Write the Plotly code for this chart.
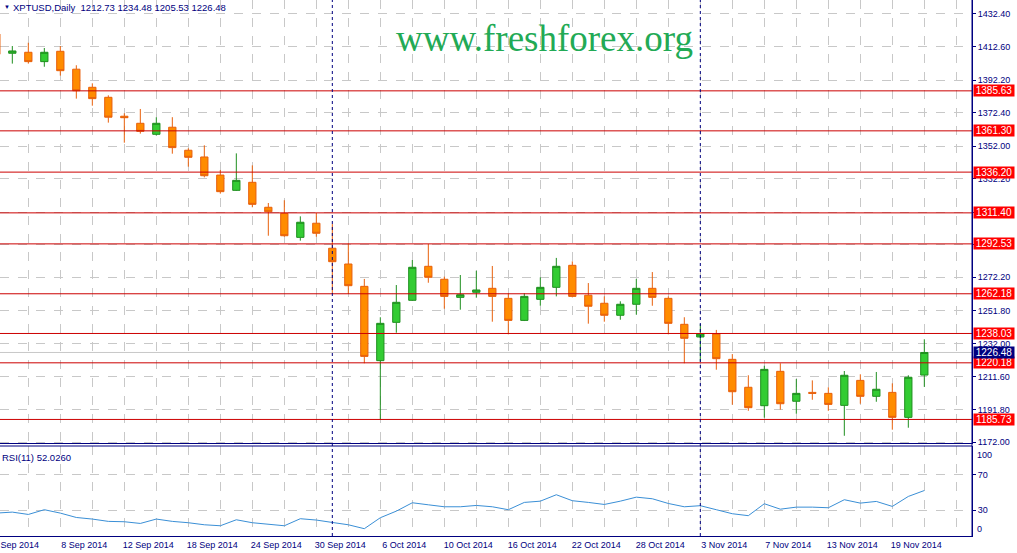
import plotly.graph_objects as go
import pandas as pd

# daily bars 2 Sep - 21 Nov 2014 (XPTUSD)
dates = pd.bdate_range("2014-09-02", "2014-11-21")
labels = [f"{d.day} {d:%b %Y}" for d in dates]

opens = [1420.2, 1408.5, 1409.1, 1403.4, 1409.7, 1398.8, 1387.8, 1381.7, 1370.2, 1365.9,
         1359.2, 1363.5, 1349.5, 1345.4, 1334.4, 1325.1, 1330.0, 1314.8, 1311.1, 1296.5,
         1305.1, 1289.9, 1280.3, 1266.7, 1221.5, 1244.8, 1258.2, 1278.9, 1271.0, 1260.0,
         1263.1, 1265.5, 1259.4, 1246.0, 1258.8, 1266.1, 1279.5, 1261.3, 1256.4, 1249.1,
         1255.8, 1265.5, 1259.4, 1243.6, 1235.9, 1237.7, 1222.3, 1205.3, 1194.1, 1215.0,
         1196.8, 1202.2, 1201.6, 1194.3, 1209.5, 1199.8, 1202.2, 1187.0, 1212.73]
highs = [1423.0, 1412.9, 1414.9, 1411.7, 1412.9, 1401.2, 1390.2, 1382.9, 1372.0, 1374.6,
         1369.6, 1369.6, 1350.7, 1352.5, 1337.5, 1347.6, 1340.3, 1317.4, 1319.1, 1309.3,
         1311.3, 1304.6, 1292.9, 1271.2, 1247.9, 1267.5, 1282.7, 1292.5, 1272.6, 1273.6,
         1276.2, 1279.1, 1262.5, 1262.5, 1272.2, 1284.0, 1281.9, 1268.7, 1260.6, 1257.6,
         1271.2, 1275.4, 1260.6, 1247.9, 1243.8, 1240.2, 1225.5, 1212.6, 1218.4, 1219.9,
         1210.3, 1209.5, 1205.3, 1215.2, 1213.2, 1214.6, 1207.7, 1212.6, 1234.48]
lows = [1405.5, 1402.2, 1402.2, 1400.3, 1394.9, 1380.9, 1376.6, 1366.3, 1354.1, 1359.6,
        1358.4, 1347.4, 1339.5, 1333.0, 1323.1, 1324.8, 1314.8, 1297.5, 1296.9, 1294.5,
        1296.9, 1262.1, 1262.1, 1219.9, 1185.4, 1238.5, 1257.8, 1268.9, 1253.1, 1252.5,
        1259.8, 1245.2, 1237.5, 1245.6, 1254.9, 1260.6, 1260.0, 1244.0, 1245.2, 1246.4,
        1249.5, 1254.9, 1237.5, 1219.9, 1220.9, 1216.0, 1194.7, 1191.0, 1186.8, 1191.7,
        1189.2, 1197.7, 1191.0, 1175.8, 1195.3, 1196.5, 1179.5, 1180.7, 1205.53]
closes = [1407.9, 1409.9, 1403.4, 1409.1, 1397.9, 1385.7, 1380.9, 1369.6, 1369.3, 1361.0,
          1365.9, 1351.1, 1345.2, 1334.0, 1324.3, 1331.2, 1316.6, 1312.1, 1297.5, 1305.7,
          1299.0, 1281.7, 1267.1, 1224.1, 1244.2, 1257.0, 1278.3, 1272.2, 1260.6, 1261.6,
          1264.5, 1260.6, 1246.0, 1260.6, 1266.1, 1278.9, 1260.6, 1254.6, 1249.1, 1255.8,
          1265.5, 1260.0, 1244.2, 1235.1, 1237.7, 1222.7, 1202.6, 1192.9, 1216.2, 1195.3,
          1201.6, 1201.6, 1194.9, 1212.6, 1199.8, 1204.1, 1187.0, 1211.4, 1226.48]
rsi = [26.7, 27.8, 25.2, 30.5, 26.7, 21.8, 20.0, 17.4, 17.0, 15.1,
       20.0, 17.4, 15.9, 13.6, 12.5, 19.2, 15.9, 14.4, 12.5, 20.4,
       18.9, 16.2, 13.6, 9.2, 21.5, 28.9, 38.3, 36.0, 33.8, 33.8,
       35.3, 33.8, 30.5, 38.7, 40.1, 47.3, 40.6, 38.7, 36.4, 40.1,
       44.6, 42.8, 37.5, 33.8, 35.0, 30.5, 26.0, 23.8, 37.2, 31.1,
       33.4, 33.4, 32.7, 41.7, 37.9, 39.8, 34.2, 45.4, 52.026]

levels = [1385.63, 1361.30, 1336.20, 1311.40, 1292.53, 1262.18, 1238.03, 1220.18, 1185.73]
price_ticks = [1172.0, 1191.8, 1211.6, 1232.0, 1251.8, 1272.2, 1292.0, 1311.8,
               1332.2, 1352.0, 1372.4, 1392.2, 1412.6, 1432.4]
hidden_ticks = [1292.0, 1311.8]  # covered by level labels in the terminal
month_starts = ["1 Oct 2014", "3 Nov 2014"]
bid = 1226.48

NAVY = '#000080'
GRID = '#C8C8C8'
x = list(range(len(labels)))


def py(px):
    # pixel row inside the plot area -> paper coordinate
    return (536 - px) / 536


fig = go.Figure()
fig.add_trace(go.Candlestick(
    x=x, open=opens, high=highs, low=lows, close=closes,
    increasing=dict(line=dict(color='#1F8F1F', width=1), fillcolor='#33CC33'),
    decreasing=dict(line=dict(color='#E8600C', width=1), fillcolor='#FF8C00'),
    whiskerwidth=0, xaxis='x', yaxis='y', hoverinfo='skip'
))
fig.add_trace(go.Scatter(
    x=x, y=rsi, mode='lines', line=dict(color='#3A8FD6', width=1),
    xaxis='x', yaxis='y2', hoverinfo='skip'
))

shapes = []
# bid line
shapes.append(dict(type='line', xref='paper', x0=0, x1=1, yref='y', y0=bid, y1=bid,
                   line=dict(color='#C8C8C8', width=1), layer='below'))
for lv in levels:
    shapes.append(dict(type='line', xref='paper', x0=0, x1=1, yref='y', y0=lv, y1=lv,
                       line=dict(color='#CC0000', width=1)))
for m in month_starts:
    xi = labels.index(m)
    shapes.append(dict(type='line', xref='x', x0=xi, x1=xi, yref='paper', y0=0, y1=1,
                       line=dict(color=NAVY, width=1, dash='3px,3px')))
# panel separators
for yy in [py(443.5), py(446)]:
    shapes.append(dict(type='line', xref='paper', x0=0, x1=1, yref='paper', y0=yy, y1=yy,
                       line=dict(color=NAVY, width=1)))
shapes.append(dict(type='line', xref='paper', x0=1, x1=1, yref='paper', y0=0, y1=1,
                   line=dict(color=NAVY, width=1)))

annotations = []
for lv in levels:
    annotations.append(dict(xref='paper', x=1, xanchor='left', xshift=1, yref='y', y=lv,
                            yanchor='middle', text=f"{lv:.2f}", showarrow=False,
                            bgcolor='#FF0000', font=dict(color='white', size=10),
                            width=40, height=11, borderpad=0))
annotations.append(dict(xref='paper', x=1, xanchor='left', xshift=1, yref='y', y=bid,
                        yanchor='middle', text=f"{bid:.2f}", showarrow=False, bgcolor=NAVY,
                        font=dict(color='white', size=10), width=40, height=11, borderpad=0))
annotations.append(dict(xref='paper', x=0.002, xanchor='left', yref='paper', y=py(7),
                        yanchor='middle', text='▼', showarrow=False,
                        font=dict(size=6, color=NAVY)))
annotations.append(dict(xref='paper', x=11 / 972, xanchor='left', yref='paper', y=py(7),
                        yanchor='middle',
                        text=f"XPTUSD,Daily  {opens[-1]:.2f} {highs[-1]:.2f} {lows[-1]:.2f} {closes[-1]:.2f}",
                        showarrow=False, font=dict(size=9.5, color=NAVY)))
annotations.append(dict(xref='paper', x=544 / 972, xanchor='center', yref='paper', y=py(38),
                        yanchor='middle', text='www.freshforex.org', showarrow=False,
                        font=dict(family='Liberation Serif', size=37, color='#22AA55')))
annotations.append(dict(xref='paper', x=0, xanchor='left', yref='paper', y=py(457),
                        yanchor='middle', text=f"RSI(11) {rsi[-1]:.4f}", showarrow=False,
                        font=dict(size=9.5, color=NAVY)))
annotations.append(dict(xref='paper', x=1, xanchor='left', xshift=3, yref='paper', y=py(455),
                        yanchor='middle', text='100', showarrow=False,
                        font=dict(size=9, color=NAVY)))
annotations.append(dict(xref='paper', x=1, xanchor='left', xshift=3, yref='paper', y=py(529),
                        yanchor='middle', text='0', showarrow=False,
                        font=dict(size=9, color=NAVY)))
# first date label, partly outside the chart on the left
annotations.append(dict(xref='paper', x=0, xanchor='left', xshift=-9, yref='paper', y=py(545),
                        yanchor='middle', text=labels[0], showarrow=False,
                        font=dict(size=9, color=NAVY)))

tickvals = list(range(0, 62, 2))
ticktext = [labels[i] if (i % 4 == 0 and i < len(labels)) else '' for i in tickvals]

fig.update_layout(
    width=1017, height=553,
    margin=dict(l=0, r=45, t=0, b=17),
    paper_bgcolor='white', plot_bgcolor='white',
    showlegend=False, boxgap=0.35,
    font=dict(family='Liberation Sans', size=9, color=NAVY),
    xaxis=dict(range=[0.23, 60.98], anchor='y2', tickvals=tickvals, ticktext=ticktext,
               showgrid=True, gridcolor=GRID, griddash='dash', zeroline=False,
               rangeslider=dict(visible=False), showline=True, linecolor=NAVY,
               ticks='', ticklabelshift=24, tickfont=dict(size=9, color=NAVY)),
    yaxis=dict(domain=[py(443.5), 1], side='right', range=[1171.1, 1440.9],
               tickvals=price_ticks,
               ticktext=['' if v in hidden_ticks else f"{v:.2f}" for v in price_ticks],
               ticks='outside', ticklen=3, tickcolor=NAVY, showline=True, linecolor=NAVY,
               showgrid=True, gridcolor=GRID, griddash='dash', zeroline=False,
               tickfont=dict(size=9, color=NAVY)),
    yaxis2=dict(domain=[0, py(446)], side='right', range=[1, 102],
                tickvals=[30, 70], ticktext=['30', '70'],
                ticks='outside', ticklen=3, tickcolor=NAVY, showline=True, linecolor=NAVY,
                showgrid=True, gridcolor=GRID, griddash='dash', zeroline=False,
                tickfont=dict(size=9, color=NAVY)),
    shapes=shapes, annotations=annotations,
)

fig.write_html("out.html", config={'displayModeBar': False},
               post_script="document.body.style.margin='0';")
